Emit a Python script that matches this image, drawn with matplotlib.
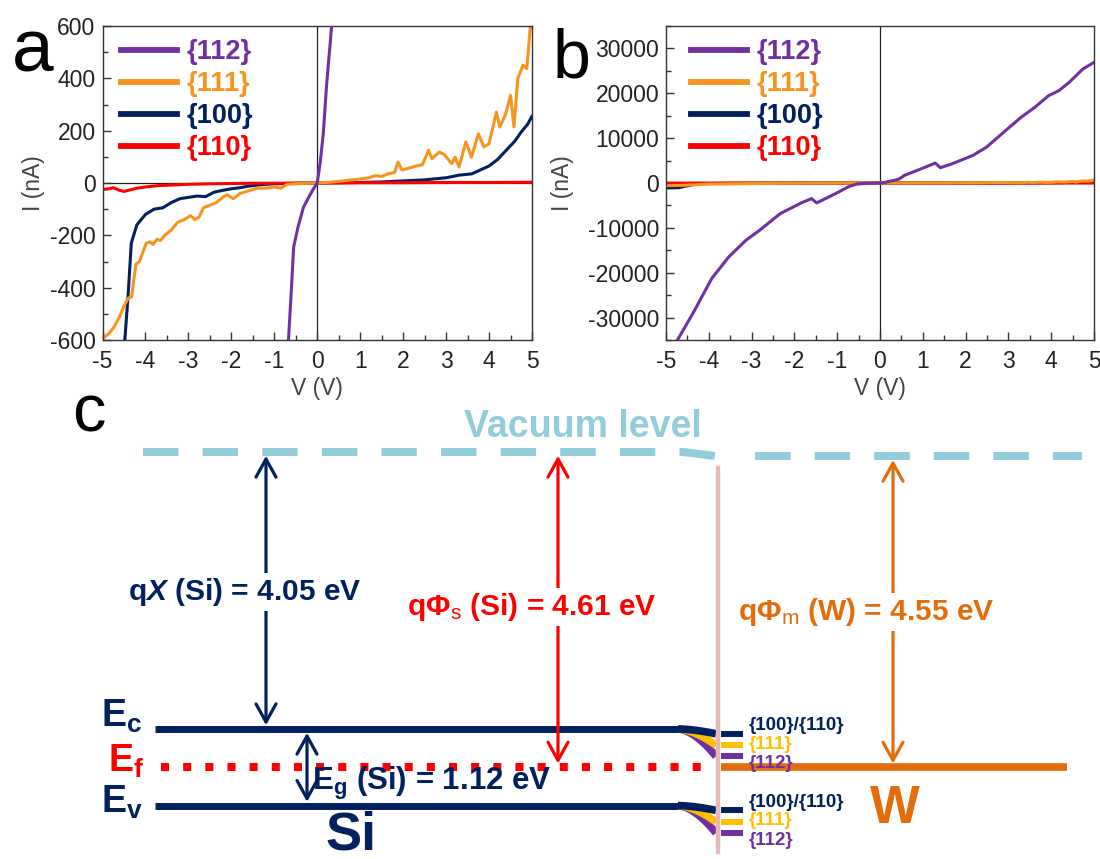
import matplotlib

matplotlib.use("Agg")

import matplotlib.pyplot as plt  # noqa: E402
import numpy as np  # noqa: E402
from matplotlib.lines import Line2D  # noqa: E402
from matplotlib.ticker import MultipleLocator  # noqa: E402

plt.rcParams["font.family"] = ["Liberation Sans", "DejaVu Sans"]
plt.rcParams["axes.unicode_minus"] = False
plt.rcParams["mathtext.fontset"] = "custom"
plt.rcParams["mathtext.rm"] = "Liberation Sans:bold"
plt.rcParams["mathtext.bf"] = "Liberation Sans:bold"
plt.rcParams["mathtext.it"] = "Liberation Sans:italic:bold"
plt.rcParams["mathtext.sf"] = "Liberation Sans"

# ---- I-V data (V in volts, I in nA) ----
facets = ["{112}", "{111}", "{100}", "{110}"]

v_112 = [-5.0, -4.73, -4.37, -3.93, -3.53, -3.13, -2.81, -2.33, -1.84, -1.6,
         -1.48, -1.04, -0.75, -0.67, -0.6, -0.55, -0.45, -0.32, -0.2, -0.11,
         0.0, 0.07, 0.14, 0.22, 0.30, 0.36, 0.45, 0.57, 0.97, 1.29, 1.41, 1.69,
         2.17, 2.49, 2.98, 3.3, 3.62, 3.94, 4.18, 4.42, 4.74, 5.0]
i_112 = [-39000, -34960, -29040, -21260, -16440, -12740, -10520, -6820, -4440,
         -3480, -4440, -2370, -900, -600, -400, -245, -170, -92, -55, -28,
         0, 80, 188, 380, 532, 650, 900, 1700, 3190, 4440, 3410, 4300,
         6150, 8000, 12070, 14670, 16890, 19480, 20590, 22440, 25410, 26890]

v_111 = [-5.0, -4.85, -4.73, -4.6, -4.5, -4.4, -4.32, -4.28, -4.22, -4.14,
         -4.05, -3.98, -3.9, -3.82, -3.73, -3.65, -3.55, -3.4, -3.25, -3.1,
         -2.95, -2.85, -2.75, -2.65, -2.5, -2.35, -2.2, -2.1, -1.95, -1.8,
         -1.6, -1.4, -1.2, -1.0, -0.85, -0.7, -0.4, 0.0, 0.3, 0.6, 0.8, 1.0,
         1.2, 1.35, 1.5, 1.65, 1.8, 1.88, 1.97, 2.1, 2.3, 2.45, 2.59, 2.67,
         2.84, 2.95, 3.05, 3.13, 3.21, 3.30, 3.46, 3.59, 3.75, 3.88, 4.0, 4.17,
         4.25, 4.38, 4.5, 4.58, 4.67, 4.79, 4.88, 4.96, 5.0]
i_111 = [-595, -575, -550, -510, -470, -440, -435, -380, -310, -300,
         -260, -230, -225, -235, -215, -220, -200, -180, -150, -140,
         -125, -140, -130, -95, -85, -75, -55, -45, -60, -40,
         -30, -20, -20, -15, -20, -5, -2, 0, 3, 8, 12, 15,
         20, 28, 25, 35, 40, 80, 50, 55, 65, 70, 125, 93,
         118, 110, 90, 74, 99, 61, 157, 99, 188, 138, 150, 271,
         214, 260, 335, 214, 399, 450, 437, 596, 650]

v_100 = [-5.0, -4.7, -4.55, -4.48, -4.4, -4.33, -4.2, -4.0, -3.8, -3.6, -3.4,
         -3.2, -3.0, -2.8, -2.6, -2.4, -2.2, -2.0, -1.8, -1.6, -1.4, -1.2,
         -1.0, -0.5, 0.0, 0.5, 1.0, 1.5, 2.0, 2.5, 3.0, 3.3, 3.6, 3.8, 4.0,
         4.2, 4.4, 4.6, 4.75, 4.9, 5.0]
i_100 = [-1100, -1050, -700, -600, -420, -230, -160, -120, -100, -95, -75,
         -60, -55, -50, -52, -35, -28, -22, -18, -12, -8, -5,
         -3, -1, 0, 1, 2, 4, 8, 12, 20, 30, 35, 50, 65,
         90, 125, 160, 195, 225, 255]

v_110 = [-5.0, -4.85, -4.75, -4.6, -4.5, -4.4, -4.2, -4.0, -3.7, -3.4, -3.0,
         -2.5, -2.0, -1.5, -1.0, 0.0, 1.0, 2.0, 3.0, 4.0, 5.0]
i_110 = [-25, -22, -18, -28, -32, -28, -20, -15, -10, -8, -5,
         -3, -2, -1, -1, 0, 1, 1, 2, 2, 3]

# ---- band diagram values (eV) ----
chi_si = 4.05
phi_si = 4.61
phi_w = 4.55
eg_si = 1.12
bend_labels = ["{100}/{110}", "{111}", "{112}"]
bend_depth = [0.07, 0.24, 0.40]

NAVY = "#002060"
PURPLE = "#7030A0"
ORANGE = "#F7941D"
RED = "#FF0000"
YELLOW = "#FFC000"
W_ORANGE = "#E46C0A"
VAC_BLUE = "#92CDDC"
PINK = "#E6B9B8"

FIG_W, FIG_H = 1100, 859
PX_PER_EV = 68.4
VAC_Y_PX = 452


def px_axes(fig, left, top, right, bottom):
    return fig.add_axes([left / FIG_W, 1 - bottom / FIG_H,
                         (right - left) / FIG_W, (bottom - top) / FIG_H])


def style_iv(ax, ylim, major, minor, ylabel_x):
    ax.set_xlim(-5, 5)
    ax.set_ylim(*ylim)
    ax.xaxis.set_major_locator(MultipleLocator(1))
    ax.xaxis.set_minor_locator(MultipleLocator(0.5))
    ax.yaxis.set_major_locator(MultipleLocator(major))
    ax.yaxis.set_minor_locator(MultipleLocator(minor))
    ax.tick_params(which="both", direction="in", labelsize=16.5,
                   labelcolor="#222222", color="#333333", width=1)
    ax.tick_params(axis="x", pad=7)
    ax.tick_params(axis="y", pad=5)
    ax.tick_params(which="major", length=6)
    ax.tick_params(which="minor", length=3.5)
    for spine in ax.spines.values():
        spine.set_linewidth(1.0)
        spine.set_color("#333333")
    ax.axhline(0, color="#222222", lw=0.9, zorder=1)
    ax.axvline(0, color="#222222", lw=0.9, zorder=1)
    ax.set_xlabel("V (V)", fontsize=16.5, color="#444444")
    ax.set_ylabel("I (nA)", fontsize=16.5, color="#444444")
    ax.xaxis.set_label_coords(0.5, -0.118)
    ax.yaxis.set_label_coords(ylabel_x, 0.5)


def plot_iv(ax, legend_x):
    lw = 2.2
    ax.plot(v_100, i_100, color=NAVY, lw=lw, zorder=2)
    ax.plot(v_110, i_110, color=RED, lw=lw, zorder=2)
    ax.plot(v_111, i_111, color=ORANGE, lw=lw, zorder=2)
    ax.plot(v_112, i_112, color=PURPLE, lw=lw, zorder=3)
    handles = [Line2D([], [], color=c, lw=4.2)
               for c in [PURPLE, ORANGE, NAVY, RED]]
    ax.legend(handles, facets, loc="upper left", bbox_to_anchor=(legend_x, 0.958),
              frameon=False, prop={"weight": "bold", "size": 19.5},
              handlelength=2.07, handletextpad=0.37, labelspacing=0.22,
              borderpad=0, borderaxespad=0, labelcolor="linecolor")


def e_of(y_px):
    return (VAC_Y_PX - y_px) / PX_PER_EV


def double_arrow(ax, x, e_top, e_bot, color):
    ax.annotate("", xy=(x, e_bot), xytext=(x, e_top),
                arrowprops=dict(arrowstyle="<->,head_length=0.65,head_width=0.36",
                                color=color, lw=2.3, shrinkA=0, shrinkB=0,
                                mutation_scale=20), zorder=4)


def plot_band(ax):
    e_vac = 0.0
    e_c = e_vac - chi_si
    e_f = e_vac - phi_si
    e_v = e_c - eg_si
    e_vac_w = e_f + phi_w

    ax.set_xlim(0, FIG_W)
    ax.set_ylim(e_of(FIG_H), e_of(385))
    ax.axis("off")

    # vacuum level
    dash = (0, (4.4, 3.0))
    ax.plot([143, 683, 716], [e_vac, e_vac, e_vac_w], color=VAC_BLUE, lw=5.8,
            linestyle=dash)
    ax.plot([755, 1082], [e_vac_w, e_vac_w], color=VAC_BLUE, lw=5.8,
            linestyle=dash)
    ax.text(583, e_of(437), "Vacuum level", color=VAC_BLUE, fontsize=27,
            fontweight="bold", ha="center", va="baseline")

    # silicon bands
    ax.plot([155, 681], [e_c, e_c], color=NAVY, lw=5, solid_capstyle="butt")
    ax.plot([155, 681], [e_v, e_v], color=NAVY, lw=5, solid_capstyle="butt")
    ax.plot([161, 706], [e_f, e_f], color=RED, lw=5.8, linestyle=(0, (1, 1.75)))

    # band bending at the interface for each facet
    xs = np.linspace(678, 716, 40)
    t = (xs - 678) / 38
    colors = [NAVY, YELLOW, PURPLE]
    shift = [0.12, 0.02, -0.11]
    for depth, col, lab, dy in reversed(list(zip(bend_depth, colors, bend_labels, shift))):
        for e0 in (e_c, e_v):
            ax.plot(xs, e0 - depth * t ** 1.7, color=col, lw=5.5,
                    solid_capstyle="butt", zorder=2)
            ax.plot([721, 743], [e0 - depth, e0 - depth], color=col, lw=4.3,
                    solid_capstyle="butt", zorder=2)
            ax.text(749, e0 - depth + dy, lab, color=col, fontsize=13.5,
                    fontweight="bold", ha="left", va="center")

    # interface
    ax.plot([718, 718], [e_of(468), e_of(852)], color=PINK, lw=3.2, zorder=3)

    # tungsten Fermi level
    ax.plot([721, 1067], [e_f, e_f], color=W_ORANGE, lw=5.5,
            solid_capstyle="butt")
    ax.text(895, e_of(823), "W", color=W_ORANGE, fontsize=38,
            fontweight="bold", ha="center", va="baseline")

    # arrows
    gap = 0.055
    double_arrow(ax, 266, e_vac - gap, e_c + gap, NAVY)
    double_arrow(ax, 558, e_vac - gap, e_f + gap, RED)
    double_arrow(ax, 893, e_vac_w - gap, e_f + gap, W_ORANGE)
    double_arrow(ax, 307, e_c - gap, e_v + gap, NAVY)

    box = dict(facecolor="white", edgecolor="none", pad=2)
    ax.text(245, e_of(600), "q$\\mathit{X}$ (Si) = %.2f eV" % chi_si,
            color=NAVY, fontsize=21.5, fontweight="bold", ha="center",
            va="baseline", bbox=box, zorder=5)
    ax.text(532, e_of(615), "q$\\mathit{\u03A6}_\\mathsf{s}$ (Si) = %.2f eV" % phi_si,
            color=RED, fontsize=21.5, fontweight="bold", ha="center",
            va="baseline", bbox=box, zorder=5)
    ax.text(866, e_of(620), "q$\\mathit{\u03A6}_\\mathsf{m}$ (W) = %.2f eV" % phi_w,
            color=W_ORANGE, fontsize=21.5, fontweight="bold", ha="center",
            va="baseline", bbox=box, zorder=5)
    ax.text(312, e_of(790), "E$_\\mathbf{g}$ (Si) = %.2f eV" % eg_si,
            color=NAVY, fontsize=22.5, fontweight="bold", ha="left",
            va="baseline", zorder=5)

    # level labels
    ax.text(101, e_of(727), "E$_\\mathbf{c}$", color=NAVY, fontsize=27,
            fontweight="bold", ha="left", va="baseline")
    ax.text(108, e_of(772), "E$_\\mathbf{f}$", color=RED, fontsize=27,
            fontweight="bold", ha="left", va="baseline")
    ax.text(101, e_of(813), "E$_\\mathbf{v}$", color=NAVY, fontsize=27,
            fontweight="bold", ha="left", va="baseline")
    ax.text(351, e_of(849), "Si", color=NAVY, fontsize=39,
            fontweight="bold", ha="center", va="baseline")


def main():
    fig = plt.figure(figsize=(FIG_W / 100, FIG_H / 100), dpi=100)

    ax_a = px_axes(fig, 102.5, 26, 532, 340)
    ax_b = px_axes(fig, 666, 26, 1094, 340)
    ax_c = px_axes(fig, 0, 385, FIG_W, FIG_H)

    plot_iv(ax_a, 0.043)
    style_iv(ax_a, (-600, 600), 200, 100, -0.134)
    plot_iv(ax_b, 0.058)
    style_iv(ax_b, (-35000, 35000), 10000, 5000, -0.215)

    plot_band(ax_c)

    fig.text(12 / FIG_W, 1 - 72 / FIG_H, "a", fontsize=54, va="baseline")
    fig.text(553 / FIG_W, 1 - 78 / FIG_H, "b", fontsize=49, va="baseline")
    fig.text(72 / FIG_W, 1 - 432 / FIG_H, "c", fontsize=48, va="baseline")

    fig.savefig("out.png", dpi=100)
    plt.close(fig)


if __name__ == "__main__":
    main()
